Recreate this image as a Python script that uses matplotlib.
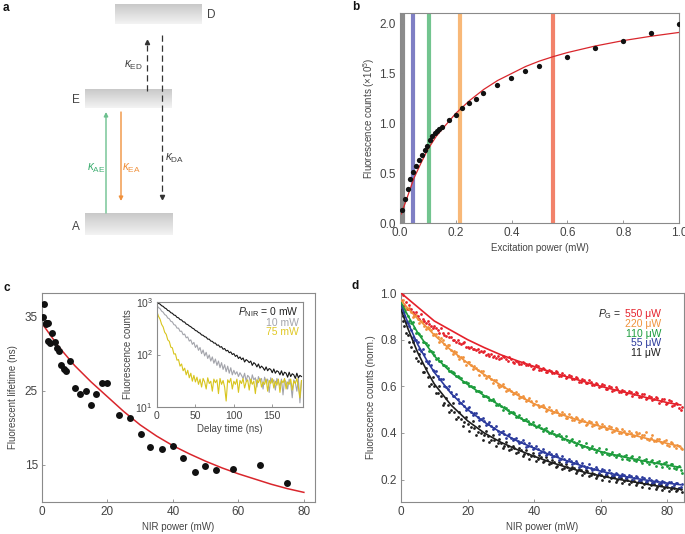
import numpy as np
import matplotlib
matplotlib.use("Agg")
import matplotlib.pyplot as plt
from matplotlib.colors import LinearSegmentedColormap

plt.rcParams['font.family'] = ['Liberation Sans', 'DejaVu Sans']
plt.rcParams['mathtext.fontset'] = 'custom'
plt.rcParams['mathtext.rm'] = 'Liberation Sans'
plt.rcParams['mathtext.it'] = 'Liberation Sans:italic'
plt.rcParams['mathtext.bf'] = 'Liberation Sans:bold'

TXT = '#444444'
SPINE = '#8a8a8a'

# ---------------- panel b data ----------------
b_power = [0.006, 0.017, 0.029, 0.037, 0.047, 0.059, 0.068, 0.078, 0.088, 0.096,
           0.108, 0.116, 0.125, 0.133, 0.14, 0.149, 0.174, 0.199, 0.224, 0.248,
           0.273, 0.299, 0.349, 0.398, 0.448, 0.499, 0.598, 0.699, 0.8, 0.9, 1.0]
b_counts = [0.13, 0.245, 0.346, 0.44, 0.507, 0.57, 0.63, 0.68, 0.73, 0.775,
            0.83, 0.87, 0.9, 0.92, 0.94, 0.96, 1.03, 1.08, 1.15, 1.2,
            1.245, 1.3, 1.38, 1.45, 1.53, 1.58, 1.67, 1.755, 1.83, 1.905, 2.0]
b_fit_x = [0.004, 0.02, 0.05, 0.075, 0.1, 0.13, 0.16, 0.2, 0.25, 0.3, 0.35, 0.4,
           0.45, 0.5, 0.55, 0.6, 0.7, 0.8, 0.9, 1.0]
b_fit_y = [0.09, 0.21, 0.45, 0.6, 0.74, 0.87, 0.97, 1.1, 1.23, 1.34, 1.43, 1.5,
           1.57, 1.625, 1.67, 1.71, 1.776, 1.83, 1.874, 1.912]
b_bars = [0.009, 0.048, 0.103, 0.216, 0.55]
b_bar_colors = ['#8c8c8c', '#7f7fc4', '#72c48f', '#f8b878', '#f2826a']

# ---------------- panel c data ----------------
c_power = [0.3, 0.6, 1.1, 1.5, 1.9, 1.3, 1.8, 2.5, 3.2, 3.9, 4.6, 5.2, 5.9, 6.6, 7.4,
           8.7, 10.0, 11.5, 13.4, 15.1, 16.5, 18.2, 19.9, 23.5, 26.8, 30.2, 33.1,
           36.6, 39.9, 43.1, 46.6, 49.9, 53.1, 58.3, 66.6, 74.9]
c_lifetime = [35.0, 36.7, 34.2, 34.2, 34.2, 34.0, 31.7, 31.5, 32.8, 31.6, 30.8, 30.4,
              28.5, 27.9, 27.7, 29.0, 25.4, 24.6, 25.0, 23.1, 24.6, 26.0, 26.0, 21.7,
              21.4, 19.2, 17.4, 17.1, 17.6, 15.9, 14.0, 14.8, 14.3, 14.4, 15.0, 12.5]
c_fit_x = [0, 5, 10, 15, 20, 25, 30, 35, 40, 45, 50, 55, 60, 65, 70, 75, 80]
c_fit_y = [34.1, 31.0, 28.4, 26.2, 24.2, 22.2, 20.4, 18.9, 17.6, 16.5, 15.5, 14.6,
           13.8, 13.1, 12.4, 11.8, 11.3]

# inset: decay traces, one value every 2 ns
delay = list(range(0, 190, 2))
trace_0mw = [1000, 940, 912, 850, 825, 770, 745, 690, 675, 625,
             610, 565, 555, 510, 500, 462, 455, 420, 415, 380,
             372, 350, 338, 318, 308, 286, 280, 262, 255, 236,
             232, 218, 214, 196, 196, 180, 178, 165, 165, 150,
             152, 138, 141, 126, 130, 117, 120, 108, 112, 100,
             104, 92, 97, 84, 90, 80, 86, 72, 80, 76,
             70, 75, 62, 70, 66, 58, 66, 55, 60, 56,
             50, 58, 49, 54, 52, 45, 53, 44, 49, 47,
             41, 49, 40, 46, 44, 37, 46, 38, 43, 41,
             35, 44, 36, 40, 38]
trace_10mw = [850, 780, 745, 670, 640, 575, 555, 495, 480, 428,
              418, 370, 362, 318, 318, 276, 278, 238, 245, 208,
              216, 180, 190, 156, 170, 136, 152, 120, 136, 104,
              122, 94, 110, 84, 98, 75, 90, 68, 82, 62,
              75, 56, 70, 52, 64, 47, 60, 44, 56, 41,
              50, 42, 47, 38, 45, 40, 35, 44, 31, 40,
              37, 28, 41, 33, 36, 24, 38, 32, 35, 22,
              37, 30, 34, 19, 36, 29, 33, 21, 35, 30,
              25, 34, 17, 33, 30, 22, 34, 28, 15, 33,
              29, 20, 35, 12, 31]
trace_75mw = [650, 530, 470, 375, 335, 265, 242, 190, 178, 138,
              134, 102, 103, 78, 80, 60, 66, 49, 55, 41,
              50, 36, 44, 31, 40, 30, 37, 27, 34, 24,
              35, 30, 22, 36, 28, 31, 20, 34, 29, 33,
              18, 35, 27, 32, 24, 13, 33, 29, 35, 22,
              31, 27, 34, 19, 32, 28, 35, 23, 30, 33,
              21, 34, 27, 31, 18, 33, 29, 35, 24, 30,
              27, 34, 20, 32, 28, 35, 23, 31, 26, 34,
              19, 32, 29, 35, 22, 30, 27, 34, 21, 31,
              28, 35, 24, 15, 32]

# ---------------- panel d data ----------------
d_power = list(range(0, 85))
d_power_half = [p + 0.5 for p in range(0, 85)]
d_550 = [0.97, 0.95, 0.93, 0.93, 0.91, 0.90, 0.91, 0.88, 0.88, 0.86, 0.86, 0.84, 0.85, 0.82,
         0.83, 0.81, 0.80, 0.80, 0.78, 0.79, 0.77, 0.77, 0.76, 0.76, 0.75, 0.75, 0.74, 0.74,
         0.73, 0.73, 0.72, 0.725, 0.71, 0.715, 0.70, 0.705, 0.695, 0.70, 0.69, 0.685, 0.68,
         0.685, 0.67, 0.675, 0.66, 0.665, 0.655, 0.66, 0.645, 0.65, 0.64, 0.645, 0.63, 0.635,
         0.62, 0.625, 0.615, 0.62, 0.605, 0.61, 0.60, 0.605, 0.59, 0.595, 0.585, 0.59, 0.575,
         0.58, 0.57, 0.575, 0.565, 0.57, 0.555, 0.565, 0.55, 0.555, 0.545, 0.55, 0.535, 0.545,
         0.53, 0.535, 0.52, 0.525, 0.50]
d_550_b = [0.99, 0.96, 0.95, 0.92, 0.92, 0.89, 0.89, 0.87, 0.865, 0.85,
           0.85, 0.83, 0.83, 0.815, 0.81, 0.80, 0.79, 0.785, 0.785, 0.77,
           0.765, 0.76, 0.755, 0.745, 0.745, 0.735, 0.73, 0.725, 0.72, 0.715,
           0.73, 0.715, 0.725, 0.705, 0.71, 0.695, 0.705, 0.69, 0.695, 0.675,
           0.69, 0.67, 0.68, 0.66, 0.67, 0.655, 0.665, 0.645, 0.655, 0.635,
           0.65, 0.63, 0.64, 0.62, 0.63, 0.615, 0.625, 0.605, 0.615, 0.595,
           0.61, 0.59, 0.60, 0.58, 0.595, 0.575, 0.585, 0.565, 0.58, 0.56,
           0.575, 0.555, 0.565, 0.545, 0.56, 0.54, 0.555, 0.53, 0.545, 0.525,
           0.54, 0.515, 0.53, 0.505, 0.51]
d_220 = [0.96, 0.94, 0.93, 0.92, 0.90, 0.89, 0.88, 0.86, 0.855, 0.84, 0.825, 0.81, 0.805,
         0.78, 0.775, 0.755, 0.75, 0.73, 0.725, 0.71, 0.705, 0.69, 0.685, 0.67, 0.665, 0.65,
         0.645, 0.63, 0.625, 0.605, 0.60, 0.595, 0.585, 0.58, 0.57, 0.565, 0.555, 0.55, 0.54,
         0.535, 0.525, 0.52, 0.515, 0.51, 0.50, 0.50, 0.49, 0.49, 0.475, 0.48, 0.465, 0.47,
         0.455, 0.465, 0.45, 0.45, 0.44, 0.445, 0.435, 0.44, 0.425, 0.43, 0.415, 0.425, 0.41,
         0.415, 0.40, 0.41, 0.395, 0.40, 0.385, 0.395, 0.38, 0.39, 0.375, 0.38, 0.365, 0.375,
         0.36, 0.365, 0.35, 0.36, 0.345, 0.35, 0.335]
d_220_b = [0.97, 0.93, 0.935, 0.895, 0.905, 0.87, 0.875, 0.845, 0.85, 0.82,
           0.825, 0.79, 0.80, 0.765, 0.775, 0.74, 0.745, 0.715, 0.725, 0.69,
           0.705, 0.675, 0.68, 0.65, 0.665, 0.635, 0.645, 0.615, 0.625, 0.595,
           0.61, 0.58, 0.59, 0.565, 0.575, 0.55, 0.56, 0.535, 0.55, 0.52,
           0.535, 0.51, 0.52, 0.495, 0.51, 0.485, 0.50, 0.475, 0.49, 0.465,
           0.48, 0.455, 0.47, 0.445, 0.46, 0.435, 0.45, 0.43, 0.445, 0.42,
           0.44, 0.415, 0.43, 0.405, 0.42, 0.40, 0.415, 0.395, 0.41, 0.385,
           0.405, 0.40, 0.39, 0.405, 0.37, 0.39, 0.365, 0.375, 0.355, 0.37,
           0.345, 0.355, 0.335, 0.345, 0.33]
d_110 = [0.95, 0.92, 0.90, 0.87, 0.85, 0.83, 0.815, 0.79, 0.775, 0.75, 0.735, 0.72, 0.71,
         0.69, 0.68, 0.665, 0.655, 0.645, 0.635, 0.62, 0.615, 0.60, 0.595, 0.58, 0.575, 0.56,
         0.555, 0.54, 0.535, 0.52, 0.515, 0.51, 0.50, 0.49, 0.485, 0.47, 0.465, 0.455, 0.45,
         0.44, 0.435, 0.43, 0.42, 0.415, 0.41, 0.40, 0.395, 0.39, 0.385, 0.375, 0.37, 0.37,
         0.36, 0.355, 0.35, 0.345, 0.34, 0.335, 0.33, 0.325, 0.32, 0.32, 0.31, 0.31, 0.305,
         0.305, 0.30, 0.30, 0.29, 0.295, 0.285, 0.29, 0.28, 0.285, 0.275, 0.28, 0.27, 0.275,
         0.265, 0.27, 0.26, 0.265, 0.25, 0.255, 0.24]
d_110_b = [0.93, 0.93, 0.88, 0.875, 0.83, 0.825, 0.79, 0.785, 0.75, 0.745,
           0.715, 0.71, 0.69, 0.685, 0.665, 0.66, 0.645, 0.64, 0.62, 0.62,
           0.60, 0.595, 0.58, 0.58, 0.56, 0.56, 0.54, 0.545, 0.52, 0.525,
           0.50, 0.505, 0.485, 0.49, 0.47, 0.475, 0.455, 0.46, 0.44, 0.445,
           0.425, 0.435, 0.41, 0.42, 0.40, 0.41, 0.385, 0.395, 0.375, 0.385,
           0.36, 0.375, 0.35, 0.365, 0.34, 0.355, 0.33, 0.345, 0.32, 0.335,
           0.31, 0.33, 0.305, 0.32, 0.295, 0.31, 0.29, 0.305, 0.285, 0.30,
           0.28, 0.295, 0.27, 0.29, 0.265, 0.285, 0.26, 0.28, 0.255, 0.275,
           0.25, 0.265, 0.245, 0.26, 0.23]
d_55 = [0.93, 0.90, 0.87, 0.84, 0.80, 0.79, 0.75, 0.74, 0.70, 0.69, 0.665, 0.645, 0.63,
        0.60, 0.59, 0.575, 0.56, 0.545, 0.53, 0.515, 0.505, 0.49, 0.485, 0.47, 0.46, 0.45,
        0.44, 0.43, 0.42, 0.41, 0.405, 0.395, 0.39, 0.38, 0.375, 0.365, 0.36, 0.355, 0.345,
        0.345, 0.335, 0.33, 0.32, 0.32, 0.31, 0.31, 0.30, 0.30, 0.29, 0.29, 0.28, 0.28, 0.27,
        0.27, 0.26, 0.26, 0.255, 0.25, 0.245, 0.245, 0.235, 0.24, 0.23, 0.23, 0.22, 0.225,
        0.215, 0.22, 0.21, 0.215, 0.205, 0.21, 0.20, 0.205, 0.195, 0.20, 0.19, 0.195, 0.185,
        0.19, 0.18, 0.19, 0.175, 0.185, 0.17]
d_55_b = [0.92, 0.875, 0.86, 0.81, 0.80, 0.76, 0.76, 0.71, 0.71, 0.67,
          0.665, 0.63, 0.63, 0.595, 0.60, 0.56, 0.565, 0.53, 0.535, 0.50,
          0.51, 0.475, 0.485, 0.455, 0.465, 0.435, 0.445, 0.415, 0.43, 0.395,
          0.41, 0.38, 0.395, 0.37, 0.38, 0.355, 0.37, 0.34, 0.355, 0.33,
          0.345, 0.315, 0.33, 0.305, 0.32, 0.295, 0.31, 0.285, 0.30, 0.275,
          0.29, 0.265, 0.28, 0.255, 0.27, 0.25, 0.265, 0.24, 0.255, 0.23,
          0.245, 0.225, 0.24, 0.215, 0.23, 0.21, 0.225, 0.205, 0.22, 0.20,
          0.215, 0.195, 0.21, 0.19, 0.205, 0.185, 0.20, 0.18, 0.195, 0.175,
          0.19, 0.17, 0.185, 0.165, 0.18]
d_11 = [0.90, 0.86, 0.82, 0.77, 0.75, 0.71, 0.70, 0.66, 0.64, 0.61, 0.60, 0.57, 0.56, 0.53,
        0.52, 0.50, 0.49, 0.47, 0.46, 0.445, 0.44, 0.425, 0.42, 0.405, 0.40, 0.39, 0.385,
        0.37, 0.37, 0.355, 0.355, 0.345, 0.345, 0.33, 0.335, 0.32, 0.325, 0.31, 0.31, 0.30,
        0.30, 0.29, 0.295, 0.28, 0.285, 0.27, 0.275, 0.26, 0.265, 0.25, 0.255, 0.245, 0.25,
        0.235, 0.24, 0.23, 0.235, 0.22, 0.225, 0.215, 0.22, 0.21, 0.215, 0.205, 0.21, 0.20,
        0.205, 0.195, 0.20, 0.19, 0.195, 0.185, 0.19, 0.18, 0.185, 0.175, 0.18, 0.17, 0.175,
        0.165, 0.17, 0.16, 0.165, 0.155, 0.16]
d_11_b = [0.88, 0.83, 0.79, 0.79, 0.72, 0.74, 0.66, 0.68, 0.60, 0.64,
          0.57, 0.60, 0.52, 0.55, 0.49, 0.53, 0.46, 0.49, 0.43, 0.47,
          0.41, 0.45, 0.39, 0.43, 0.37, 0.41, 0.36, 0.39, 0.345, 0.375,
          0.335, 0.36, 0.325, 0.345, 0.315, 0.335, 0.30, 0.325, 0.29, 0.315,
          0.28, 0.305, 0.275, 0.295, 0.265, 0.285, 0.255, 0.275, 0.245, 0.265,
          0.24, 0.255, 0.23, 0.245, 0.22, 0.24, 0.215, 0.23, 0.205, 0.225,
          0.20, 0.22, 0.195, 0.215, 0.19, 0.21, 0.185, 0.205, 0.18, 0.20,
          0.175, 0.195, 0.17, 0.19, 0.165, 0.185, 0.16, 0.18, 0.155, 0.175,
          0.15, 0.17, 0.15, 0.165, 0.145]
d_fit_x = [0, 2, 5, 8, 10, 15, 20, 25, 30, 35, 40, 45, 50, 55, 60, 65, 70, 75, 80, 84]
d_fit_550 = [1.0, 0.976, 0.94, 0.904, 0.88, 0.84, 0.80, 0.766, 0.735, 0.709, 0.685, 0.662,
             0.64, 0.62, 0.60, 0.582, 0.565, 0.547, 0.53, 0.52]
d_fit_220 = [0.97, 0.935, 0.89, 0.85, 0.82, 0.755, 0.70, 0.65, 0.605, 0.562, 0.525, 0.495,
             0.47, 0.448, 0.428, 0.408, 0.39, 0.372, 0.355, 0.342]
d_fit_110 = [0.96, 0.905, 0.83, 0.77, 0.73, 0.66, 0.608, 0.56, 0.515, 0.47, 0.432, 0.40,
             0.37, 0.343, 0.32, 0.303, 0.288, 0.274, 0.262, 0.252]
d_fit_55 = [0.95, 0.875, 0.78, 0.705, 0.66, 0.57, 0.50, 0.447, 0.402, 0.365, 0.335, 0.305,
            0.28, 0.256, 0.236, 0.22, 0.206, 0.195, 0.185, 0.178]
d_fit_11 = [0.93, 0.85, 0.745, 0.66, 0.61, 0.52, 0.452, 0.40, 0.36, 0.328, 0.30, 0.274,
            0.252, 0.232, 0.216, 0.202, 0.19, 0.177, 0.166, 0.158]
d_labels = ['550 \u03bcW', '220 \u03bcW', '110 \u03bcW', '55 \u03bcW', '11 \u03bcW']
d_colors = ['#e5212b', '#f0923c', '#1c9c3c', '#2b3a9c', '#1e1e1e']

W, H = 685, 534


def px_axes(fig, x0, y0, x1, y1):
    return fig.add_axes([x0 / W, 1 - y1 / H, (x1 - x0) / W, (y1 - y0) / H])


def style(ax, fs=8.5):
    for s in ax.spines.values():
        s.set_color(SPINE)
        s.set_linewidth(0.8)
    ax.tick_params(direction='in', length=2.5, width=0.6, color=SPINE,
                   labelsize=fs, labelcolor=TXT, pad=3)


fig = plt.figure(figsize=(W / 100, H / 100), dpi=100)

# ---------------- panel a: level scheme ----------------
ax_a = px_axes(fig, 0, 0, 340, 260)
ax_a.set_xlim(0, 340)
ax_a.set_ylim(260, 0)
ax_a.axis('off')
grad = LinearSegmentedColormap.from_list('lev', ['#c9c9c9', '#f3f3f3'])
g = np.linspace(0, 1, 50).reshape(-1, 1)
for (x0, x1, y0, y1) in [(115, 202, 4, 24), (85, 172, 89, 108), (85, 173, 213, 235)]:
    ax_a.imshow(g, cmap=grad, extent=(x0, x1, y1, y0), aspect='auto', zorder=1)
ax_a.text(207, 15, 'D', fontsize=8.5, color=TXT, va='center')
ax_a.text(76, 100, 'E', fontsize=8.5, color=TXT, va='center', ha='center')
ax_a.text(76, 227, 'A', fontsize=8.5, color=TXT, va='center', ha='center')

ax_a.annotate('', xy=(106, 112), xytext=(106, 213),
              arrowprops=dict(arrowstyle='-|>', color='#6cc08e', lw=1.0,
                              mutation_scale=6, shrinkA=0, shrinkB=0))
ax_a.annotate('', xy=(121, 201), xytext=(121, 112),
              arrowprops=dict(arrowstyle='-|>', color='#f0913c', lw=1.0,
                              mutation_scale=6, shrinkA=0, shrinkB=0))
ax_a.plot([147, 147], [91, 45], color='#333333', lw=0.9, ls=(0, (5, 3)))
ax_a.plot(147, 42, marker='^', ms=3, color='#333333')
ax_a.plot([162, 162], [35, 194], color='#333333', lw=0.9, ls=(0, (5, 3)))
ax_a.plot(162, 197, marker='v', ms=3, color='#333333')
ax_a.text(133, 65, r'$\kappa_{\rm ED}$', fontsize=8.5, color=TXT, ha='center', va='center')
ax_a.text(96, 168, r'$\kappa_{\rm AE}$', fontsize=8.5, color='#3fae72', ha='center', va='center')
ax_a.text(131, 168, r'$\kappa_{\rm EA}$', fontsize=8.5, color='#f0913c', ha='center', va='center')
ax_a.text(165, 158, r'$\kappa_{\rm DA}$', fontsize=8.5, color=TXT, ha='left', va='center')

# ---------------- panel b ----------------
ax_b = px_axes(fig, 400, 13, 679, 223)
style(ax_b)
for xb, cb in zip(b_bars, b_bar_colors):
    ax_b.axvline(xb, color=cb, lw=3.0, zorder=1)
ax_b.plot(b_fit_x, b_fit_y, color='#d9262c', lw=0.9, zorder=2)
ax_b.plot(b_power, b_counts, 'o', color='#111111', ms=3.8, mew=0, zorder=3)
ax_b.set_xlim(0, 1.0)
ax_b.set_ylim(0, 2.107)
ax_b.set_xticks([0, 0.2, 0.4, 0.6, 0.8, 1.0])
ax_b.set_xticklabels(['0.0', '0.2', '0.4', '0.6', '0.8', '1.0'])
ax_b.set_yticks([0, 0.5, 1.0, 1.5, 2.0])
ax_b.set_yticklabels(['0.0', '0.5', '1.0', '1.5', '2.0'])
ax_b.set_xlabel('Excitation power (mW)', fontsize=7, color=TXT, labelpad=3)
ax_b.set_ylabel(r'Fluorescence counts ($\times$10$^5$)', fontsize=7, color=TXT, labelpad=2)

# ---------------- panel c ----------------
ax_c = px_axes(fig, 42, 293, 315, 502)
style(ax_c)
ax_c.plot(c_fit_x, c_fit_y, color='#d9262c', lw=1.1, zorder=2)
ax_c.plot(c_power, c_lifetime, 'o', color='#111111', ms=5, mew=0, zorder=3)
ax_c.set_xlim(0, 83.4)
ax_c.set_ylim(10, 38.2)
ax_c.set_xticks([0, 20, 40, 60, 80])
ax_c.set_yticks([15, 25, 35])
ax_c.set_xlabel('NIR power (mW)', fontsize=7, color=TXT, labelpad=3)
ax_c.set_ylabel('Fluorescent lifetime (ns)', fontsize=7, color=TXT, labelpad=5)

ax_in = px_axes(fig, 157, 302, 303, 407)
style(ax_in, fs=7.5)
ax_in.plot(delay, trace_10mw, color='#a3a4ab', lw=0.8)
ax_in.plot(delay, trace_75mw, color='#d8c51e', lw=0.8)
ax_in.plot(delay, trace_0mw, color='#151515', lw=0.8)
ax_in.set_yscale('log')
ax_in.set_ylim(10, 1000)
ax_in.set_xlim(0, 190)
ax_in.set_xticks([0, 50, 100, 150])
ax_in.minorticks_off()
ax_in.set_xlabel('Delay time (ns)', fontsize=7, color=TXT, labelpad=2)
ax_in.set_ylabel('Fluorescence counts', fontsize=7, color=TXT, labelpad=2)
ax_in.text(0.97, 0.9, r'$P_{\rm NIR}$ = 0 mW', transform=ax_in.transAxes, ha='right',
           va='center', fontsize=7.5, color='#222222')
ax_in.text(0.97, 0.8, '10 mW', transform=ax_in.transAxes, ha='right', va='center',
           fontsize=7.5, color='#a3a4ab')
ax_in.text(0.97, 0.71, '75 mW', transform=ax_in.transAxes, ha='right', va='center',
           fontsize=7.5, color='#e0c824')

# ---------------- panel d ----------------
ax_d = px_axes(fig, 401, 293, 684, 502)
style(ax_d)
series = [(d_11, d_11_b, d_fit_11), (d_55, d_55_b, d_fit_55), (d_110, d_110_b, d_fit_110),
          (d_220, d_220_b, d_fit_220), (d_550, d_550_b, d_fit_550)]
for (ya, yb, fy), col in zip(series, d_colors[::-1]):
    ax_d.plot(d_power, ya, 'o', color=col, ms=2.0, mew=0, zorder=2)
    ax_d.plot(d_power_half, yb, 'o', color=col, ms=2.0, mew=0, zorder=2)
    ax_d.plot(d_fit_x, fy, color=col, lw=1.2, zorder=3)
ax_d.set_xlim(0, 85)
ax_d.set_ylim(0.104, 1.0)
ax_d.set_xticks([0, 20, 40, 60, 80])
ax_d.set_yticks([0.2, 0.4, 0.6, 0.8, 1.0])
ax_d.set_yticklabels(['0.2', '0.4', '0.6', '0.8', '1.0'])
ax_d.set_xlabel('NIR power (mW)', fontsize=7, color=TXT, labelpad=3)
ax_d.set_ylabel('Fluorescence counts (norm.)', fontsize=7, color=TXT, labelpad=3)
ty = [314, 324, 334, 343.5, 353.5]
for lab, col, yy in zip(d_labels, d_colors, ty):
    fig.text(661 / W, 1 - yy / H, lab, ha='right', va='center', fontsize=7.5, color=col)
fig.text(622 / W, 1 - ty[0] / H, r'$P_{\rm G}$ = ', ha='right', va='center',
         fontsize=7.5, color='#222222')

# panel letters
for lt, (px, py) in zip('abcd', [(3, 8), (352, 7), (3, 288), (352, 286)]):
    fig.text(px / W, 1 - py / H, lt, fontsize=8.5, fontweight='bold', color='#111111',
             va='center', ha='left')

fig.savefig('out.png', dpi=100)
